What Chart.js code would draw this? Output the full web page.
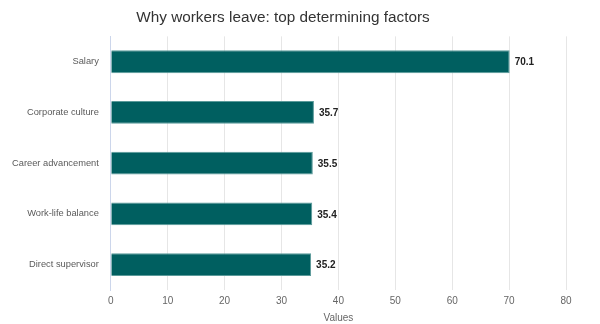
<!DOCTYPE html>
<html><head><meta charset="utf-8">
<script src="https://cdn.jsdelivr.net/npm/chart.js@4"></script>
<style>html,body{margin:0;padding:0;background:#fff}#w{width:600px;height:324px}</style>
</head><body><div id="w"><canvas id="c"></canvas></div>
<script>
const categories = ["Salary","Corporate culture","Career advancement","Work-life balance","Direct supervisor"];
const values = [70.1,35.7,35.5,35.4,35.2];
const xTicks = [0,10,20,30,40,50,60,70,80];
const FF = '"Liberation Sans", Arial, sans-serif';

const labelPlugin = {
  id:'barLabels',
  afterDatasetsDraw(chart){
    const ctx = chart.ctx;
    const meta = chart.getDatasetMeta(0);
    ctx.save();
    ctx.font = 'bold 10px ' + FF;
    ctx.fillStyle = '#222';
    ctx.textBaseline = 'middle';
    meta.data.forEach((bar,i)=>{
      ctx.fillText(String(values[i]), bar.x + 5, bar.y + 1);
    });
    ctx.restore();
  }
};

new Chart(document.getElementById('c'),{
  type:'bar',
  data:{labels:categories,datasets:[{data:values,backgroundColor:'#005f60',borderColor:'#5a9a9a',borderWidth:1,barPercentage:0.9,categoryPercentage:0.5}]},
  options:{
    indexAxis:'y',responsive:true,maintainAspectRatio:false,animation:false,
    layout:{padding:{left:0,right:34,top:0,bottom:0}},
    plugins:{legend:{display:false},tooltip:{enabled:false},
      title:{display:true,text:'Why workers leave: top determining factors',color:'#333',font:{family:FF,size:15.3,weight:'normal'},padding:{top:9,bottom:9}}},
    scales:{
      x:{min:0,max:80,afterBuildTicks(s){s.ticks=xTicks.map(v=>({value:v}));},
        grid:{color:'#e6e6e6',drawTicks:false},border:{display:false},
        ticks:{color:'#666',padding:5,font:{family:FF,size:10}},
        title:{display:true,text:'Values',color:'#666',font:{family:FF,size:10},padding:{top:0,bottom:0}}},
      y:{grid:{display:false,drawTicks:false},border:{display:true,color:'#ccd6eb'},
        ticks:{color:'#5a5a5a',padding:12,font:{family:FF,size:9.3}}}
    }
  },
  plugins:[labelPlugin]
});
</script></body></html>
